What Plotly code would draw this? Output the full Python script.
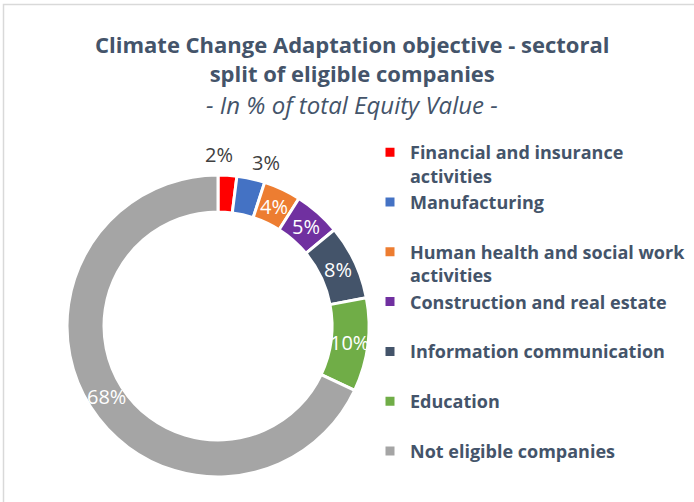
import math
import plotly.graph_objects as go

categories = [
    "Financial and insurance<br>activities",
    "Manufacturing<br>&nbsp;",
    "Human health and social work<br>activities",
    "Construction and real estate<br>&nbsp;",
    "Information communication<br>&nbsp;",
    "Education<br>&nbsp;",
    "Not eligible companies",
]
values = [2, 3, 4, 5, 8, 10, 68]
labels_text = ["2%", "3%", "4%", "5%", "8%", "10%", "68%"]
colors = ["#FF0000", "#4472C4", "#ED7D31", "#7030A0", "#44546A", "#70AD47", "#A5A5A5"]
label_outside = [True, True, False, False, False, False, False]
title_text = "<b>Climate Change Adaptation objective - sectoral<br>split of eligible companies</b>"
subtitle_text = "<i>- In % of total Equity Value -</i>"

# --- style / layout constants ---
W, H = 694, 502
cx, cy, R = 218, 326, 151
HOLE = 0.755
TEXT_COLOR = "#44546A"
out_nudge_x = [-10, 11, 0, 0, 0, 0, 0]
out_nudge_y = [2, -2, 0, 0, 0, 0, 0]

fig = go.Figure(go.Pie(
    labels=categories,
    values=values,
    textinfo="none",
    marker=dict(colors=colors, line=dict(color="white", width=3)),
    hole=HOLE,
    sort=False,
    direction="clockwise",
    rotation=0,
    domain=dict(x=[(cx - R) / W, (cx + R) / W], y=[1 - (cy + R) / H, 1 - (cy - R) / H]),
))

# data labels: placed at each slice's mid-angle, derived from the values
annotations = []
total = sum(values)
cum = 0
r_in = R * (1 + HOLE) / 2
for i, v in enumerate(values):
    mid = (cum + v / 2) / total * 2 * math.pi
    cum += v
    r = R + 19 if label_outside[i] else r_in
    px = cx + r * math.sin(mid)
    py = cy - r * math.cos(mid)
    annotations.append(dict(
        x=px / W, y=1 - py / H, xref="paper", yref="paper",
        text=labels_text[i], showarrow=False,
        xanchor="center", yanchor="middle",
        xshift=out_nudge_x[i], yshift=out_nudge_y[i],
        font=dict(family="Open Sans", size=20,
                  color="#404040" if label_outside[i] else "white"),
    ))

annotations.append(dict(
    x=352 / W, y=1 - 27 / H, xref="paper", yref="paper",
    xanchor="center", yanchor="top", showarrow=False,
    text=title_text,
    font=dict(family="Open Sans", size=22, color=TEXT_COLOR),
))
annotations.append(dict(
    x=352 / W, y=1 - 104 / H, xref="paper", yref="paper",
    xanchor="center", yanchor="middle", showarrow=False,
    text=subtitle_text,
    font=dict(family="Open Sans", size=24, color=TEXT_COLOR),
))

fig.update_layout(
    width=W, height=H,
    margin=dict(l=0, r=0, t=0, b=0),
    paper_bgcolor="white",
    plot_bgcolor="white",
    font=dict(family="Open Sans", color=TEXT_COLOR),
    annotations=annotations,
    legend=dict(
        x=370 / W, xanchor="left",
        y=1 - 134 / H, yanchor="top",
        valign="top",
        font=dict(family="Open Sans", size=18, color=TEXT_COLOR, weight="bold"),
        bgcolor="rgba(0,0,0,0)",
    ),
    shapes=[dict(
        type="rect", xref="paper", yref="paper",
        x0=3.5 / W, x1=1.05, y0=-0.05, y1=1 - 4.5 / H,
        line=dict(color="#D9D9D9", width=1.5),
        fillcolor="rgba(0,0,0,0)",
    )],
)

fig.write_html("out.html", post_script="document.body.style.margin='0';",
               config={"displayModeBar": False})
